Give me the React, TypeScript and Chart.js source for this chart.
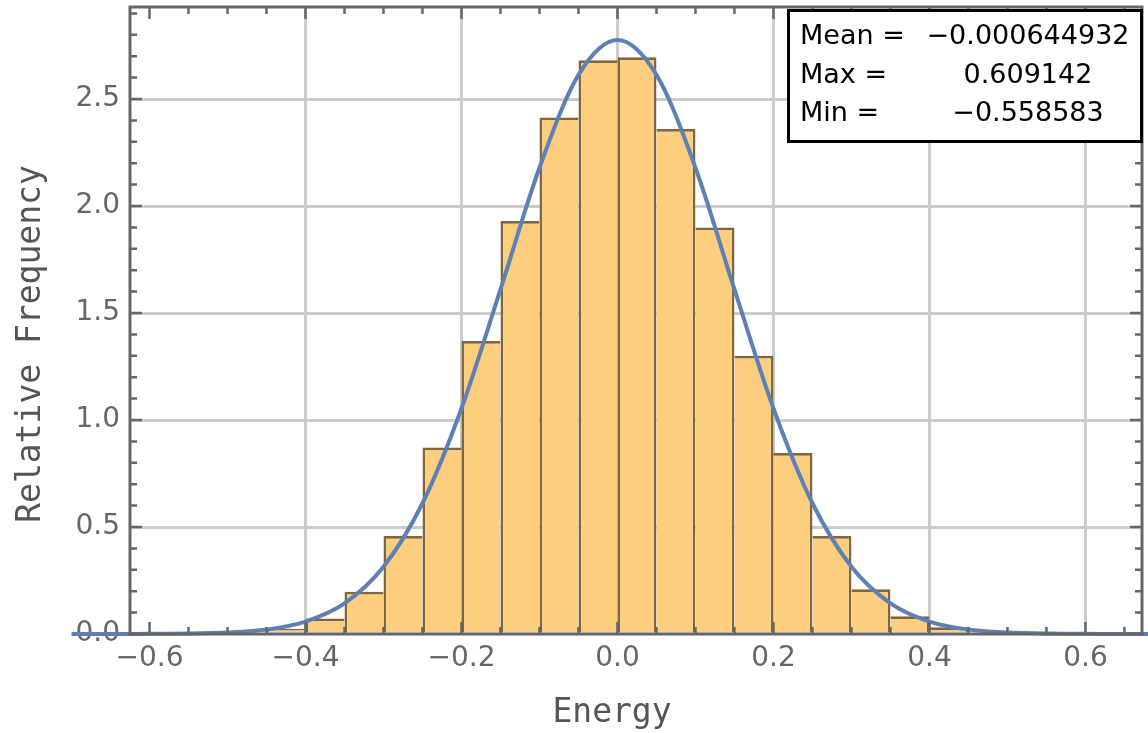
import React, { useEffect, useRef } from 'react';
import { Chart, registerables } from 'chart.js';

Chart.register(...registerables);

// Histogram bins (width 0.05), bin centres and relative frequencies
const binCenters = [
  -0.425, -0.375, -0.325, -0.275, -0.225, -0.175, -0.125, -0.075, -0.025,
  0.025, 0.075, 0.125, 0.175, 0.225, 0.275, 0.325, 0.375, 0.425,
];
const binFreq = [
  0.025, 0.072, 0.197, 0.458, 0.871, 1.369, 1.93, 2.414, 2.681,
  2.695, 2.36, 1.9, 1.3, 0.846, 0.458, 0.209, 0.083, 0.031,
];

const curveX = [
  -0.7, -0.65, -0.6, -0.55, -0.5, -0.45, -0.4, -0.35, -0.3, -0.25, -0.2, -0.15, -0.1, -0.05,
  0, 0.05, 0.1, 0.15, 0.2, 0.25, 0.3, 0.35, 0.4, 0.45, 0.5, 0.55, 0.6, 0.65, 0.7,
];
const curveY = [
  0.0, 0.0, 0.001, 0.002, 0.007, 0.021, 0.058, 0.143, 0.314, 0.611, 1.054, 1.61, 2.179, 2.613,
  2.776, 2.613, 2.179, 1.61, 1.054, 0.611, 0.314, 0.143, 0.058, 0.021, 0.007, 0.002, 0.001, 0.0, 0.0,
];

// Axes
const xTicks = [-0.6, -0.4, -0.2, 0, 0.2, 0.4, 0.6];
const xTickLabels = ['−0.6', '−0.4', '−0.2', '0.0', '0.2', '0.4', '0.6'];
const xGridHidden = [-0.6];
const yTicks = [0, 0.5, 1.0, 1.5, 2.0, 2.5];
const yTickLabels = ['0.0', '0.5', '1.0', '1.5', '2.0', '2.5'];
const yGridHidden = [0];
const xMinorStep = 0.05;
const yMinorStep = 0.1;

const xTitle = 'Energy';
const yTitle = 'Relative Frequency';

// Statistics box
const statLabels = ['Mean =', 'Max =', 'Min ='];
const statValues = ['−0.000644932', '0.609142', '−0.558583'];

const AXIS_COLOR = '#666666';
const TICK_FONT = "'DejaVu Sans'";
const TITLE_FONT = "'DejaVu Sans Mono'";

const framePlugin = {
  id: 'mmaFrame',
  afterDatasetsDraw(chart: any) {
    const { ctx, chartArea: a } = chart;
    const xs = chart.scales.x;
    const ys = chart.scales.y;
    ctx.save();
    ctx.strokeStyle = AXIS_COLOR;
    ctx.lineCap = 'butt';
    const isMajor = (v: number, list: number[]) => list.some((m) => Math.abs(m - v) < 1e-6);
    ctx.lineWidth = 2.5;
    const x0 = Math.ceil(xs.min / xMinorStep - 1e-6);
    const x1 = Math.floor(xs.max / xMinorStep + 1e-6);
    for (let k = x0; k <= x1; k++) {
      const v = k * xMinorStep;
      const px = xs.getPixelForValue(v);
      const len = isMajor(v, xTicks) ? 12 : 7;
      ctx.beginPath();
      ctx.moveTo(px, a.bottom);
      ctx.lineTo(px, a.bottom - len);
      ctx.moveTo(px, a.top);
      ctx.lineTo(px, a.top + len);
      ctx.stroke();
    }
    const y0 = Math.ceil(ys.min / yMinorStep - 1e-6);
    const y1 = Math.floor(ys.max / yMinorStep + 1e-6);
    for (let k = y0; k <= y1; k++) {
      const v = k * yMinorStep;
      const py = ys.getPixelForValue(v);
      const len = isMajor(v, yTicks) ? 12 : 7;
      ctx.beginPath();
      ctx.moveTo(a.left, py);
      ctx.lineTo(a.left + len, py);
      ctx.moveTo(a.right, py);
      ctx.lineTo(a.right - len, py);
      ctx.stroke();
    }
    ctx.lineWidth = 3;
    ctx.strokeRect(a.left, a.top, a.right - a.left, a.bottom - a.top);
    ctx.restore();
  },
  afterDraw(chart: any) {
    const { ctx } = chart;
    ctx.save();
    ctx.fillStyle = '#555555';
    ctx.font = `33px ${TITLE_FONT}`;
    ctx.textAlign = 'center';
    ctx.textBaseline = 'alphabetic';
    ctx.fillText(xTitle, 612, 722);
    ctx.translate(40, 344);
    ctx.rotate(-Math.PI / 2);
    ctx.fillText(yTitle, 0, 0);
    ctx.restore();
  },
};

export default function App() {
  const canvasRef = useRef<HTMLCanvasElement | null>(null);

  useEffect(() => {
    document.body.style.margin = '0';
    const canvas = canvasRef.current;
    if (!canvas) return;

    const barData = binCenters.map((c, i) => ({ x: c, y: binFreq[i] }));
    // listed from right to left so that the whole curve is drawn, also beyond the frame
    const lineData = curveX.map((x, i) => ({ x, y: curveY[i] })).reverse();
    const EW = 2.7;
    const n = binFreq.length;

    const chart = new Chart(canvas, {
      type: 'bar',
      data: {
        datasets: [
          {
            type: 'line',
            data: lineData,
            borderColor: '#5E81B5',
            borderWidth: 4,
            pointRadius: 0,
            fill: false,
            cubicInterpolationMode: 'monotone',
            capBezierPoints: false,
            clip: false,
            order: 0,
          } as any,
          {
            type: 'bar',
            data: barData,
            backgroundColor: '#FCCE7E',
            borderColor: '#7E673F',
            borderWidth: (c: any) => {
              const i = c.dataIndex;
              const own = binFreq[i];
              const left = i === 0 || binFreq[i - 1] <= own ? EW : 0;
              const right = i === n - 1 || binFreq[i + 1] < own ? EW : 0;
              return { top: EW, left, right, bottom: 0 };
            },
            borderSkipped: false,
            barPercentage: 1,
            categoryPercentage: 1,
            inflateAmount: 0,
            order: 1,
          } as any,
        ],
      },
      options: {
        animation: false,
        responsive: false,
        events: [],
        layout: { padding: { left: 0, top: 7, right: 6, bottom: 0 } },
        plugins: {
          legend: { display: false },
          tooltip: { enabled: false },
        },
        scales: {
          x: {
            type: 'linear',
            min: -0.625,
            max: 0.6725,
            offset: false,
            afterBuildTicks: (axis: any) => {
              axis.ticks = xTicks.map((v) => ({ value: v }));
            },
            afterFit: (axis: any) => {
              axis.height = 99;
              axis.paddingLeft = 0;
              axis.paddingRight = 0;
            },
            grid: {
              offset: false,
              color: (c: any) =>
                c.tick && xGridHidden.some((h) => Math.abs(h - c.tick.value) < 1e-6)
                  ? 'rgba(0,0,0,0)'
                  : '#cccccc',
              lineWidth: 3,
              drawTicks: false,
            },
            border: { display: false },
            ticks: {
              autoSkip: false,
              maxRotation: 0,
              padding: 8,
              color: AXIS_COLOR,
              font: { family: TICK_FONT, size: 28 },
              callback: (_v: any, i: number) => xTickLabels[i],
            },
          } as any,
          y: {
            type: 'linear',
            min: 0,
            max: 2.93,
            afterBuildTicks: (axis: any) => {
              axis.ticks = yTicks.map((v) => ({ value: v }));
            },
            afterFit: (axis: any) => {
              axis.width = 130;
              axis.paddingTop = 0;
              axis.paddingBottom = 0;
            },
            grid: {
              offset: false,
              color: (c: any) =>
                c.tick && yGridHidden.some((h) => Math.abs(h - c.tick.value) < 1e-6)
                  ? 'rgba(0,0,0,0)'
                  : '#cccccc',
              lineWidth: 3,
              drawTicks: false,
            },
            border: { display: false },
            ticks: {
              autoSkip: false,
              padding: 10,
              color: AXIS_COLOR,
              font: { family: TICK_FONT, size: 28 },
              callback: (_v: any, i: number) => yTickLabels[i],
            },
          } as any,
        },
      },
      plugins: [framePlugin],
    });

    return () => {
      chart.destroy();
    };
  }, []);

  return (
    <div style={{ position: 'relative', width: 1148, height: 733, background: '#fff', overflow: 'hidden' }}>
      <canvas ref={canvasRef} width={1148} height={733} style={{ display: 'block' }} />
      <div
        style={{
          position: 'absolute',
          left: 787,
          top: 9,
          width: 356,
          height: 134,
          boxSizing: 'border-box',
          border: '3px solid #000',
          background: '#fff',
          fontFamily: TICK_FONT,
          fontSize: 27,
          color: '#000',
        }}
      >
        {statLabels.map((label, i) => (
          <React.Fragment key={label}>
            <div
              style={{
                position: 'absolute',
                left: 10,
                top: 4.4 + i * 38.5,
                height: 38.5,
                lineHeight: '38.5px',
                whiteSpace: 'pre',
              }}
            >
              {label}
            </div>
            <div
              style={{
                position: 'absolute',
                left: 118,
                width: 240,
                top: 4.4 + i * 38.5,
                height: 38.5,
                lineHeight: '38.5px',
                textAlign: 'center',
                whiteSpace: 'pre',
              }}
            >
              {statValues[i]}
            </div>
          </React.Fragment>
        ))}
      </div>
    </div>
  );
}
